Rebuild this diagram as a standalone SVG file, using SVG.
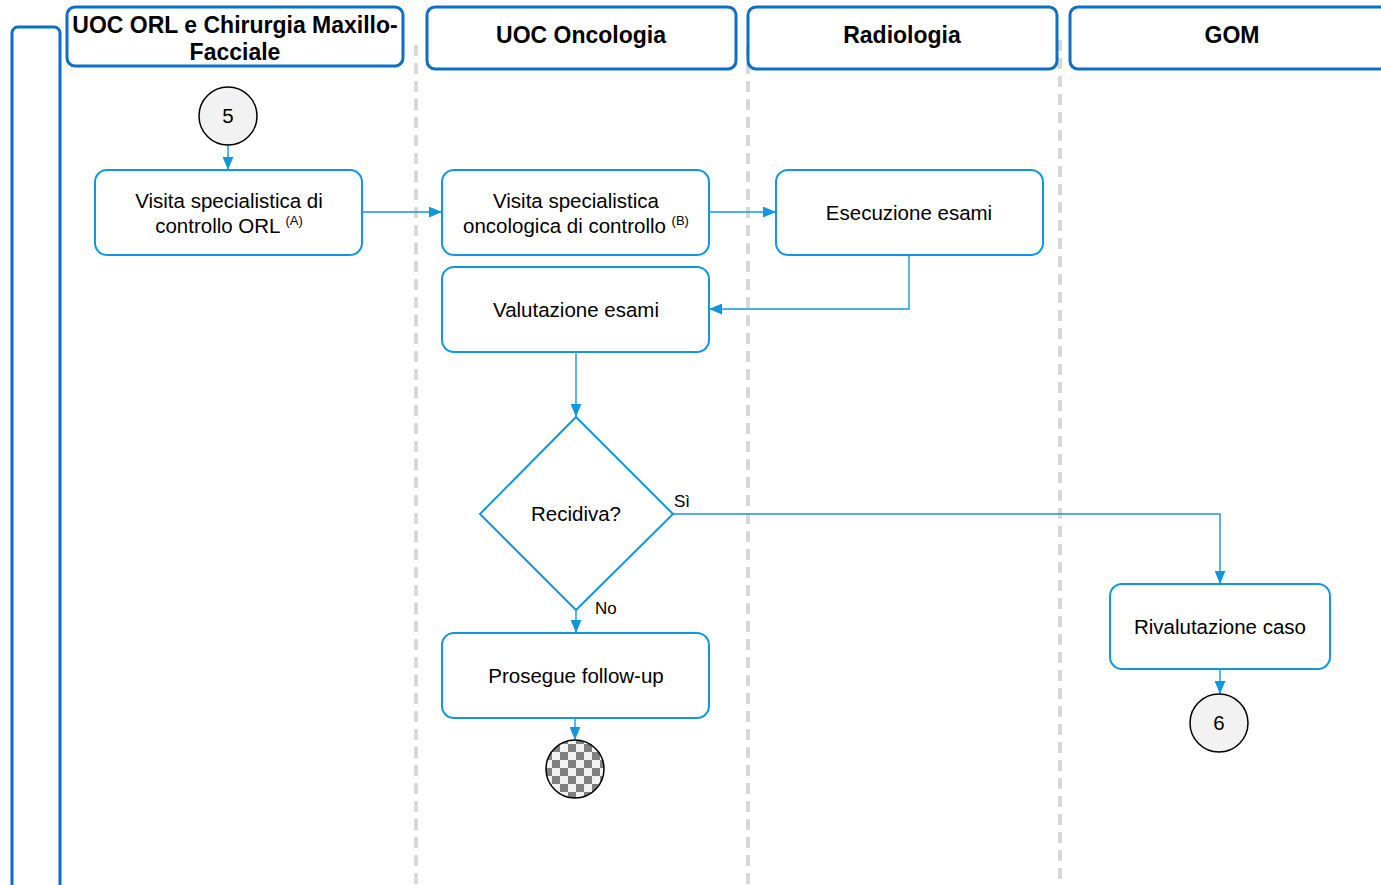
<svg xmlns="http://www.w3.org/2000/svg" width="1381" height="885" viewBox="0 0 1381 885">
  <style>
    .lane { fill: #ffffff; stroke: #0f6fc6; stroke-width: 3; }
    .lanetxt { font-family: "Liberation Sans", Arial, sans-serif; font-size: 23px; font-weight: bold; fill: #000; text-anchor: middle; }
    .div { stroke: #d9d9d9; stroke-width: 4; stroke-dasharray: 11 7; fill: none; }
    .box { fill: #ffffff; stroke: #1197e0; stroke-width: 2; }
    .txt { font-family: "Liberation Sans", Arial, sans-serif; font-size: 20.5px; fill: #000; text-anchor: middle; }
    .sup { font-size: 13px; }
    .lbl { font-family: "Liberation Sans", Arial, sans-serif; font-size: 17px; fill: #000; }
    .conn { fill: none; stroke: #1197e0; stroke-width: 1.4; marker-end: url(#arrow); }
    .circ { fill: #f2f2f2; stroke: #000; stroke-width: 1.5; }
  </style>
  <defs>
    <marker id="arrow" viewBox="0 0 12 10" refX="12" refY="5" markerWidth="13" markerHeight="11" markerUnits="userSpaceOnUse" orient="auto">
      <path d="M0,0 L12,5 L0,10 Z" fill="#1197e0"/>
    </marker>
    <pattern id="checker" x="0" y="0" width="16" height="16" patternUnits="userSpaceOnUse">
      <rect width="16" height="16" fill="#f2f2f2"/>
      <rect x="0" y="0" width="8" height="8" fill="#808080"/>
      <rect x="8" y="8" width="8" height="8" fill="#808080"/>
    </pattern>
  </defs>

  <!-- lane dividers -->
  <g id="dividers">
    <line class="div" x1="416" y1="45" x2="416" y2="885"/>
    <line class="div" x1="748" y1="45" x2="748" y2="885"/>
    <line class="div" x1="1060" y1="40" x2="1060" y2="885"/>
  </g>

  <!-- lane headers -->
  <g id="lane-side"><rect class="lane" x="12" y="27" width="48" height="870" rx="6"/></g>
  <g id="lane-orl">
    <rect class="lane" x="67" y="7" width="336" height="59" rx="8"/>
    <text class="lanetxt" x="235" y="33">UOC ORL e Chirurgia Maxillo-</text>
    <text class="lanetxt" x="235" y="60">Facciale</text>
  </g>
  <g id="lane-onco">
    <rect class="lane" x="427" y="7" width="309" height="62" rx="8"/>
    <text class="lanetxt" x="581" y="43">UOC Oncologia</text>
  </g>
  <g id="lane-radio">
    <rect class="lane" x="748" y="7" width="309" height="62" rx="8"/>
    <text class="lanetxt" x="902" y="43">Radiologia</text>
  </g>
  <g id="lane-gom">
    <rect class="lane" x="1070" y="7" width="330" height="62" rx="8"/>
    <text class="lanetxt" x="1232" y="43">GOM</text>
  </g>

  <!-- connectors -->
  <g id="connectors">
    <path class="conn" d="M228,145 L228,170"/>
    <path class="conn" d="M362,212 L442,212"/>
    <path class="conn" d="M709,212 L776,212"/>
    <path class="conn" d="M909,255 L909,309 L709,309"/>
    <path class="conn" d="M576,352 L576,417"/>
    <path class="conn" d="M576,610 L576,633"/>
    <path class="conn" d="M673,514 L1220,514 L1220,584"/>
    <path class="conn" d="M1220,669 L1220,694"/>
    <path class="conn" d="M575,718 L575,740"/>
    <text class="lbl" x="674" y="507">Sì</text>
    <text class="lbl" x="595" y="614">No</text>
  </g>

  <!-- nodes -->
  <g id="start-5">
    <circle class="circ" cx="228" cy="116" r="29"/>
    <text class="txt" x="228" y="123">5</text>
  </g>
  <g id="visita-orl">
    <rect class="box" x="95" y="170" width="267" height="85" rx="12"/>
    <text class="txt" x="229" y="208">Visita specialistica di</text>
    <text class="txt" x="229" y="233">controllo ORL <tspan class="sup" dy="-8">(A)</tspan></text>
  </g>
  <g id="visita-onco">
    <rect class="box" x="442" y="170" width="267" height="85" rx="12"/>
    <text class="txt" x="576" y="208">Visita specialistica</text>
    <text class="txt" x="576" y="233">oncologica di controllo <tspan class="sup" dy="-8">(B)</tspan></text>
  </g>
  <g id="esecuzione">
    <rect class="box" x="776" y="170" width="267" height="85" rx="12"/>
    <text class="txt" x="909" y="220">Esecuzione esami</text>
  </g>
  <g id="valutazione">
    <rect class="box" x="442" y="267" width="267" height="85" rx="12"/>
    <text class="txt" x="576" y="317">Valutazione esami</text>
  </g>
  <g id="recidiva">
    <polygon class="box" points="576,417 673,514 576,610 480,514"/>
    <text class="txt" x="576" y="521">Recidiva?</text>
  </g>
  <g id="prosegue">
    <rect class="box" x="442" y="633" width="267" height="85" rx="12"/>
    <text class="txt" x="576" y="683">Prosegue follow-up</text>
  </g>
  <g id="end">
    <circle cx="575" cy="769" r="29" fill="url(#checker)" stroke="#000" stroke-width="1.5"/>
  </g>
  <g id="rivalutazione">
    <rect class="box" x="1110" y="584" width="220" height="85" rx="12"/>
    <text class="txt" x="1220" y="634">Rivalutazione caso</text>
  </g>
  <g id="end-6">
    <circle class="circ" cx="1219" cy="723" r="29"/>
    <text class="txt" x="1219" y="730">6</text>
  </g>
</svg>
